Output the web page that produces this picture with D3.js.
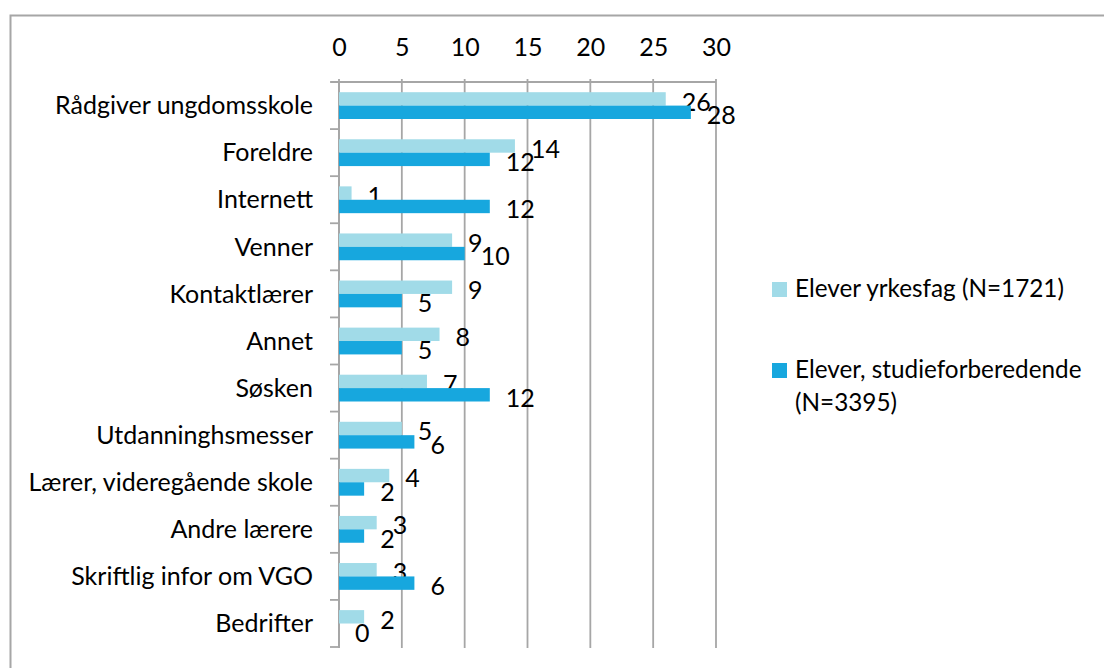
<!DOCTYPE html>
<html>
<head>
<meta charset="utf-8">
<script src="https://cdn.jsdelivr.net/npm/d3@7"></script>
<style>
  html, body { margin: 0; padding: 0; background: #fff; }
  svg { display: block; }
  text { font-family: Lato, "Open Sans", sans-serif; fill: #000; }
</style>
</head>
<body>
<svg id="chart" width="1104" height="668"></svg>
<script>
// Information sources, percent of pupils
const categories = [
  "Rådgiver ungdomsskole", "Foreldre", "Internett", "Venner", "Kontaktlærer",
  "Annet", "Søsken", "Utdanninghsmesser", "Lærer, videregående skole",
  "Andre lærere", "Skriftlig infor om VGO", "Bedrifter"
];
const yrkesfag = [26, 14, 1, 9, 9, 8, 7, 5, 4, 3, 3, 2];
const studieforberedende = [28, 12, 12, 10, 5, 5, 12, 6, 2, 2, 6, 0];
const seriesNames = ["Elever yrkesfag (N=1721)", "Elever, studieforberedende (N=3395)"];
const xTicks = [0, 5, 10, 15, 20, 25, 30];

const colors = ["#a1dbe8", "#17a7de"];
const fontSize = 25;

const svg = d3.select("#chart");

// Outer frame (open to the right and bottom)
svg.append("rect")
  .attr("x", 10.5).attr("y", 15.5)
  .attr("width", 1300).attr("height", 900)
  .attr("fill", "none").attr("stroke", "#a6a6a6").attr("stroke-width", 2);

const plot = { left: 339, right: 716, top: 82, bottom: 647 };

const x = d3.scaleLinear().domain([0, 30]).range([plot.left, plot.right]);
const y = d3.scaleBand().domain(categories).range([plot.top, plot.bottom]);
const barH = 13.4;
const barOffset = 10.2;

// Vertical gridlines
svg.append("g").selectAll("line").data(xTicks).join("line")
  .attr("x1", d => x(d)).attr("x2", d => x(d))
  .attr("y1", plot.top - 3).attr("y2", plot.bottom + 1)
  .attr("stroke", "#a6a6a6").attr("stroke-width", 1.8);

// Top value axis
const xAxis = svg.append("g")
  .attr("transform", `translate(0,${plot.top})`)
  .call(d3.axisTop(x).tickValues(xTicks).tickSize(0).tickPadding(0));
xAxis.select(".domain").remove();
xAxis.selectAll("text")
  .attr("y", 47 - plot.top)
  .attr("dy", "0.35em")
  .style("font-size", fontSize + "px")
  .style("font-family", "Lato, sans-serif")
  .attr("fill", "#000");
svg.append("line")
  .attr("x1", plot.left - 8).attr("x2", plot.right)
  .attr("y1", plot.top).attr("y2", plot.top)
  .attr("stroke", "#a6a6a6").attr("stroke-width", 1.8);

// Category axis on the left
svg.append("line")
  .attr("x1", plot.left).attr("x2", plot.left)
  .attr("y1", plot.top).attr("y2", plot.bottom + 1)
  .attr("stroke", "#a6a6a6").attr("stroke-width", 1.8);
const boundaries = categories.map(c => y(c)).concat([plot.bottom]);
svg.append("g").selectAll("line").data(boundaries).join("line")
  .attr("x1", plot.left - 9).attr("x2", plot.left)
  .attr("y1", d => d).attr("y2", d => d)
  .attr("stroke", "#a6a6a6").attr("stroke-width", 1.8);

svg.append("g").selectAll("text").data(categories).join("text")
  .attr("x", 313)
  .attr("y", d => y(d) + y.bandwidth() / 2)
  .attr("dy", "0.35em")
  .attr("text-anchor", "end")
  .style("font-size", fontSize + "px")
  .text(d => d);

// Bars and value labels
const series = [yrkesfag, studieforberedende];
series.forEach((vals, si) => {
  const g = svg.append("g");
  g.selectAll("rect").data(vals).join("rect")
    .attr("x", x(0))
    .attr("y", (d, i) => y(categories[i]) + barOffset + si * barH)
    .attr("width", d => x(d) - x(0))
    .attr("height", barH)
    .attr("fill", colors[si]);
  g.selectAll("text").data(vals).join("text")
    .attr("x", d => x(d) + 16)
    .attr("y", (d, i) => y(categories[i]) + barOffset + si * barH + barH / 2 + 3)
    .attr("dy", "0.35em")
    .style("font-size", fontSize + "px")
    .text(d => d);
});

// Legend
const legend = svg.append("g");
const legendRows = [
  { color: colors[0], lines: ["Elever yrkesfag (N=1721)"], top: 282 },
  { color: colors[1], lines: ["Elever, studieforberedende", "(N=3395)"], top: 363 }
];
legendRows.forEach(r => {
  legend.append("rect")
    .attr("x", 772).attr("y", r.top)
    .attr("width", 15).attr("height", 15)
    .attr("fill", r.color);
  const t = legend.append("text")
    .attr("x", 795).attr("y", r.top + 15)
    .style("font-size", "24.3px");
  r.lines.forEach((ln, i) => {
    t.append("tspan").attr("x", 795).attr("dy", i === 0 ? 0 : 32.5).text(ln);
  });
});
</script>
</body>
</html>
